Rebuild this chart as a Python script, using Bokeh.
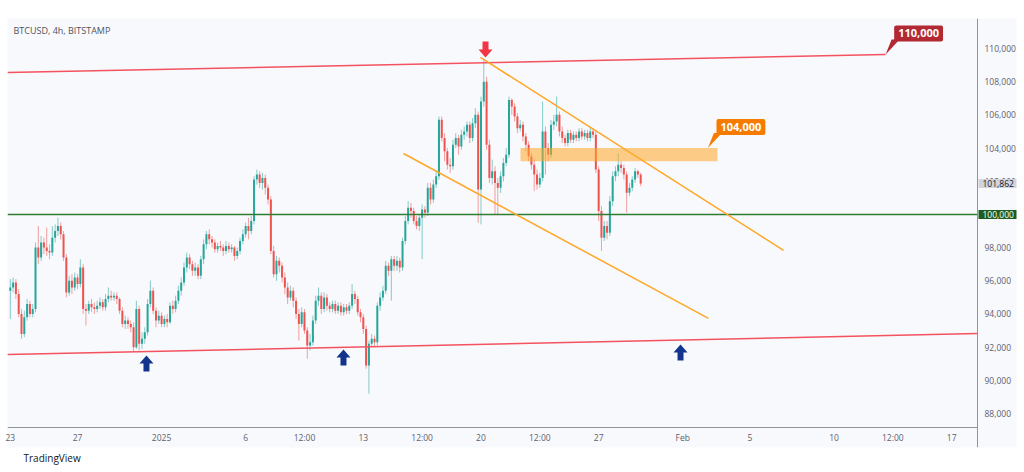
from bokeh.plotting import figure
from bokeh.models import Range1d, FixedTicker, Label, Span, ColumnDataSource, Title
from bokeh.embed import file_html
from bokeh.resources import INLINE

FONT = "Open Sans"

# ---------------- data (BTCUSD 4h, prices in thousands of USD) ----------------
# one row per day, starting 23 Dec 2024 00:00, six 4-hour bars per day
opens = [
    95.4, 95.6, 95.9, 95.2, 94.0, 92.8,
    93.8, 94.6, 94.0, 94.3, 98.0, 97.4,
    98.3, 98.0, 97.8, 97.7, 98.6, 99.0,
    99.3, 98.8, 97.4, 95.3, 96.0, 95.6,
    96.2, 95.8, 96.8, 94.3, 94.2, 94.6,
    94.4, 94.3, 94.5, 94.7, 94.4, 94.9,
    95.1, 95.0, 95.1, 94.9, 94.2, 93.4,
    93.6, 93.4, 93.2, 92.0, 94.3, 92.2,
    92.5, 92.9, 94.6, 95.4, 94.2, 93.6,
    93.9, 93.4, 93.7, 93.5, 94.5, 94.3,
    94.8, 95.4, 95.9, 96.8, 97.4, 97.0,
    96.6, 96.8, 96.3, 97.3, 98.2, 98.8,
    98.5, 98.3, 97.9, 98.1, 98.0, 97.8,
    98.1, 97.9, 98.0, 97.5, 97.8, 98.4,
    98.8, 99.3, 99.0, 99.6, 102.1, 102.4,
    101.9, 102.2, 101.6, 100.9, 97.8, 96.4,
    97.2, 96.9, 96.2, 95.6, 95.0, 95.4,
    94.8, 94.0, 93.4, 94.1, 93.0, 92.1,
    92.3, 93.6, 94.8, 95.1, 94.3, 95.0,
    94.5, 94.3, 94.6, 94.2, 94.5, 94.1,
    94.4, 94.2, 94.5, 95.2, 94.9, 94.1,
    93.8, 93.1, 90.9, 92.2, 92.5, 92.3,
    94.5, 95.0, 95.4, 96.9, 96.6, 97.3,
    96.9, 97.2, 96.8, 98.4, 99.6, 100.4,
    100.2, 99.6, 99.3, 99.8, 100.3, 100.1,
    101.6, 100.9, 101.8, 102.3, 105.7, 104.6,
    103.8, 103.0, 102.9, 104.2, 104.6, 104.1,
    104.8, 105.0, 105.4, 104.6, 105.5, 106.0,
    101.5, 106.8, 108.0, 104.2, 102.2, 102.6,
    101.9, 101.6, 102.3, 103.1, 103.6, 106.9,
    106.5, 105.9, 105.2, 105.4, 104.7, 104.2,
    103.5, 103.0, 102.4, 101.8, 102.2, 105.0,
    104.0, 103.6, 105.4, 105.6, 106.0, 105.0,
    104.6, 104.3, 104.9, 104.5, 104.8, 104.6,
    105.0, 104.7, 104.9, 104.6, 105.0, 104.8,
    102.7, 100.2, 98.6, 99.3, 98.9, 100.8,
    102.3, 102.6, 103.0, 102.8, 102.4, 101.3,
    101.6, 102.1, 102.6, 102.4,
]
highs = [
    96.1, 96.2, 96.1, 95.5, 94.3, 94.2,
    94.9, 94.8, 94.6, 98.3, 99.3, 98.7,
    98.6, 99.2, 98.2, 99.3, 99.4, 99.8,
    99.5, 99.0, 97.6, 96.3, 96.4, 96.5,
    96.4, 97.3, 97.0, 94.6, 94.8, 94.9,
    94.7, 94.8, 95.0, 94.9, 95.2, 95.6,
    95.4, 95.3, 95.3, 95.0, 94.4, 93.9,
    93.8, 93.6, 93.5, 94.8, 94.5, 92.9,
    93.2, 94.9, 96.0, 95.6, 94.4, 94.2,
    94.1, 93.9, 94.0, 94.7, 94.8, 95.1,
    95.7, 96.2, 97.1, 97.7, 97.6, 97.2,
    97.1, 97.0, 97.5, 98.5, 99.0, 99.1,
    98.7, 98.5, 98.3, 98.4, 98.2, 98.4,
    98.3, 98.2, 98.1, 98.0, 98.6, 99.1,
    99.5, 99.8, 99.9, 102.3, 102.7, 102.6,
    102.5, 102.4, 101.8, 101.1, 98.1, 97.5,
    97.4, 97.1, 96.5, 95.9, 95.7, 95.6,
    95.0, 94.3, 94.4, 94.3, 93.2, 92.8,
    93.9, 95.1, 95.6, 95.3, 95.3, 95.2,
    94.7, 94.8, 94.8, 94.7, 94.7, 94.6,
    94.6, 94.7, 95.8, 95.4, 95.1, 94.3,
    94.0, 93.3, 92.4, 92.8, 92.7, 94.7,
    95.3, 95.7, 97.2, 97.1, 97.5, 97.5,
    97.5, 97.4, 98.6, 99.9, 100.8, 100.7,
    100.4, 99.9, 100.0, 100.6, 100.5, 101.9,
    101.9, 102.1, 102.6, 105.9, 105.9, 104.9,
    104.0, 103.4, 104.5, 104.9, 104.8, 105.1,
    105.3, 105.6, 105.6, 105.8, 106.4, 106.2,
    107.1, 109.3, 108.3, 104.5, 103.3, 102.9,
    102.2, 102.6, 103.4, 104.0, 107.1, 107.0,
    106.7, 106.1, 105.7, 105.6, 104.9, 104.4,
    103.7, 103.3, 102.7, 102.5, 106.8, 105.3,
    104.3, 105.7, 106.0, 107.1, 106.2, 105.3,
    104.8, 105.1, 105.1, 105.0, 105.0, 105.2,
    105.2, 105.1, 105.1, 105.3, 105.2, 105.0,
    102.9, 100.5, 99.6, 99.6, 101.1, 102.6,
    102.9, 103.7, 103.2, 103.0, 102.6, 101.9,
    102.3, 102.8, 102.7, 102.5,
]
lows = [
    93.7, 95.3, 94.9, 93.8, 92.5, 92.6,
    93.6, 93.8, 93.8, 94.1, 97.0, 97.2,
    97.6, 97.5, 97.3, 97.5, 98.3, 98.7,
    98.5, 97.2, 95.0, 95.1, 95.2, 95.4,
    95.5, 95.6, 94.0, 93.3, 94.0, 94.1,
    94.0, 94.1, 94.3, 94.2, 94.2, 94.7,
    94.8, 94.8, 94.6, 94.0, 93.2, 93.1,
    93.1, 92.9, 91.7, 91.9, 91.8, 91.9,
    92.2, 92.7, 94.4, 94.0, 93.2, 93.4,
    93.2, 93.2, 93.2, 93.4, 94.0, 94.1,
    94.6, 95.1, 95.7, 96.5, 96.7, 96.3,
    96.3, 96.1, 96.1, 97.0, 97.9, 98.2,
    98.0, 97.7, 97.7, 97.8, 97.5, 97.6,
    97.7, 97.7, 97.2, 97.3, 97.6, 98.2,
    98.6, 98.5, 98.8, 99.4, 101.8, 101.6,
    101.5, 101.2, 100.6, 97.6, 96.2, 96.0,
    96.5, 95.9, 95.2, 94.6, 94.8, 94.4,
    93.7, 92.4, 93.2, 92.8, 91.3, 91.8,
    92.1, 93.4, 94.5, 94.0, 94.1, 94.2,
    94.1, 94.1, 94.0, 94.0, 93.9, 93.9,
    94.0, 94.0, 94.3, 94.6, 93.9, 93.5,
    92.8, 90.7, 89.2, 92.0, 92.0, 92.1,
    94.2, 94.8, 95.2, 96.3, 94.8, 96.6,
    96.6, 96.5, 96.6, 98.2, 99.4, 99.8,
    99.4, 99.1, 99.0, 97.3, 99.8, 99.9,
    100.6, 100.7, 101.6, 102.1, 104.4, 103.2,
    102.7, 102.5, 102.7, 104.0, 103.6, 103.9,
    104.5, 104.7, 104.3, 104.4, 105.2, 99.5,
    99.4, 106.5, 103.9, 101.9, 101.8, 100.0,
    100.0, 101.3, 102.0, 102.9, 103.4, 106.0,
    105.6, 104.9, 105.0, 104.4, 103.8, 103.2,
    102.7, 101.4, 101.5, 101.6, 102.0, 102.4,
    103.2, 103.4, 105.1, 105.3, 104.7, 104.3,
    104.1, 104.1, 104.3, 104.3, 104.4, 104.4,
    104.5, 104.5, 104.4, 104.4, 104.6, 102.5,
    99.6, 97.8, 98.4, 98.5, 98.7, 100.5,
    102.0, 102.3, 102.5, 102.1, 100.1, 101.1,
    101.4, 101.9, 102.2, 101.7,
]
closes = [
    95.6, 95.9, 95.2, 94.0, 92.8, 93.8,
    94.6, 94.0, 94.3, 98.0, 97.4, 98.3,
    98.0, 97.8, 97.7, 98.6, 99.0, 99.3,
    98.8, 97.4, 95.3, 96.0, 95.6, 96.2,
    95.8, 96.8, 94.3, 94.2, 94.6, 94.4,
    94.3, 94.5, 94.7, 94.4, 94.9, 95.1,
    95.0, 95.1, 94.9, 94.2, 93.4, 93.6,
    93.4, 93.2, 92.0, 94.3, 92.2, 92.5,
    92.9, 94.6, 95.4, 94.2, 93.6, 93.9,
    93.4, 93.7, 93.5, 94.5, 94.3, 94.8,
    95.4, 95.9, 96.8, 97.4, 97.0, 96.6,
    96.8, 96.3, 97.3, 98.2, 98.8, 98.5,
    98.3, 97.9, 98.1, 98.0, 97.8, 98.1,
    97.9, 98.0, 97.5, 97.8, 98.4, 98.8,
    99.3, 99.0, 99.6, 102.1, 102.4, 101.9,
    102.2, 101.6, 100.9, 97.8, 96.4, 97.2,
    96.9, 96.2, 95.6, 95.0, 95.4, 94.8,
    94.0, 93.4, 94.1, 93.0, 92.1, 92.3,
    93.6, 94.8, 95.1, 94.3, 95.0, 94.5,
    94.3, 94.6, 94.2, 94.5, 94.1, 94.4,
    94.2, 94.5, 95.2, 94.9, 94.1, 93.8,
    93.1, 90.9, 92.2, 92.5, 92.3, 94.5,
    95.0, 95.4, 96.9, 96.6, 97.3, 96.9,
    97.2, 96.8, 98.4, 99.6, 100.4, 100.2,
    99.6, 99.3, 99.8, 100.3, 100.1, 101.6,
    100.9, 101.8, 102.3, 105.7, 104.6, 103.8,
    103.0, 102.9, 104.2, 104.6, 104.1, 104.8,
    105.0, 105.4, 104.6, 105.5, 106.0, 101.5,
    106.8, 108.0, 104.2, 102.2, 102.6, 101.9,
    101.6, 102.3, 103.1, 103.6, 106.9, 106.5,
    105.9, 105.2, 105.4, 104.7, 104.2, 103.5,
    103.0, 102.4, 101.8, 102.2, 105.0, 104.0,
    103.6, 105.4, 105.6, 106.0, 105.0, 104.6,
    104.3, 104.9, 104.5, 104.8, 104.6, 105.0,
    104.7, 104.9, 104.6, 105.0, 104.8, 102.7,
    100.2, 98.6, 99.3, 98.9, 100.8, 102.3,
    102.6, 103.0, 102.8, 102.4, 101.3, 101.6,
    102.1, 102.6, 102.4, 101.862,
]
# bar open time in days since 23 Dec 2024 (4-hour bars)
bar_days = [i / 6 for i in range(len(closes))]

x_tick_days = [0, 4, 9, 14, 17.5, 21, 24.5, 28, 31.5, 35, 40, 44, 49, 52.5, 56]
x_tick_labels = ["23", "27", "2025", "6", "12:00", "13", "12:00", "20", "12:00",
                 "27", "Feb", "5", "10", "12:00", "17"]
y_ticks = [88, 90, 92, 94, 96, 98, 100, 102, 104, 106, 108, 110]
y_tick_labels = ["88,000", "90,000", "92,000", "94,000", "96,000", "98,000",
                 "100,000", "102,000", "104,000", "106,000", "108,000", "110,000"]

support_level = 100.0
last_price = 101.862
channel_top_days = [-0.17, 52.07]
channel_top_prices = [108.55, 109.64]
channel_bot_days = [-0.17, 57.54]
channel_bot_prices = [91.55, 92.82]
wedge_top_days = [27.97, 46.0]
wedge_top_prices = [109.46, 97.83]
wedge_bot_days = [23.39, 41.53]
wedge_bot_prices = [103.67, 93.73]
zone_days = [30.35, 42.07]
zone_prices = [103.2, 104.0]
callout_days = [41.5, 52.07]
callout_prices = [104.0, 109.64]
callout_texts = ["104,000", "110,000"]
up_arrow_days = [8.10, 19.82, 39.87]
up_arrow_prices = [91.50, 91.86, 92.16]
down_arrow_days = [28.27]
down_arrow_prices = [109.46]

# ---------------- figure ----------------
W, H = 1024, 472
BL, BR, BT, BB = 7, 8, 18, 25
X0, X1 = -0.1666, 59.857        # frame spans the whole chart panel incl. scales
Y0, Y1 = 85.952, 111.808
X_SEP, Y_SEP = 57.537, 87.158   # where the price scale / time scale begin
PX = (X1 - X0) / (W - BL - BR)   # days per pixel
PY = (Y1 - Y0) / (H - BT - BB)   # price per pixel

p = figure(width=W, height=H, x_range=Range1d(X0, X1), y_range=Range1d(Y0, Y1),
           output_backend="svg", toolbar_location=None, y_axis_location="right",
           min_border_left=BL, min_border_right=BR, min_border_top=BT, min_border_bottom=BB)
p.background_fill_color = "#f8f9fd"
p.border_fill_color = "#ffffff"
p.outline_line_color = None
p.grid.visible = False

AX_COL = "#8f939c"
LBL_COL = "#5d606b"
yax = p.yaxis[0]
yax.ticker = FixedTicker(ticks=y_ticks)
yax.major_label_overrides = {t: l for t, l in zip(y_ticks, y_tick_labels)}
xax = p.xaxis[0]
xax.ticker = FixedTicker(ticks=x_tick_days)
xax.major_label_overrides = {t: l for t, l in zip(x_tick_days, x_tick_labels)}
for ax, so in ((yax, -32), (xax, -16)):
    ax.major_tick_in = 0
    ax.major_tick_out = 0
    ax.minor_tick_in = 0
    ax.minor_tick_out = 0
    ax.axis_line_color = None
    ax.major_label_text_font = FONT
    ax.major_label_text_font_size = "8.5px"
    ax.major_label_text_color = LBL_COL
    ax.major_label_standoff = so

# scale separators
p.add_layout(Span(location=X_SEP, dimension="height", line_color=AX_COL, line_width=1))
p.segment(x0=[X0], y0=[Y_SEP], x1=[X_SEP], y1=[Y_SEP], line_color=AX_COL, line_width=1)

# ---------------- candles ----------------
UP, DN = "#26a69a", "#ef5350"
colors = [UP if c >= o else DN for o, c in zip(opens, closes)]
src = ColumnDataSource(dict(
    x=bar_days, h=highs, l=lows,
    top=[max(o, c) for o, c in zip(opens, closes)],
    bot=[min(o, c) for o, c in zip(opens, closes)],
    color=colors))
p.segment("x", "h", "x", "l", source=src, line_color="color", line_alpha=0.55, line_width=1)
p.vbar(x="x", width=2.0 * PX, top="top", bottom="bot", source=src,
       fill_color="color", line_color=None)

# ---------------- drawings ----------------
p.segment(x0=[X0], y0=[support_level], x1=[X_SEP], y1=[support_level],
          line_color="#2e7d32", line_width=1.5)
p.line(channel_top_days, channel_top_prices, line_color="#f4525e", line_width=1.5)
p.line(channel_bot_days, channel_bot_prices, line_color="#f4525e", line_width=1.5)
p.line(wedge_top_days, wedge_top_prices, line_color="#ffa726", line_width=1.5)
p.line(wedge_bot_days, wedge_bot_prices, line_color="#ffa726", line_width=1.5)
p.quad(left=[zone_days[0]], right=[zone_days[1]], bottom=[zone_prices[0]], top=[zone_prices[1]],
       fill_color="#ffa726", fill_alpha=0.55, line_color=None)

# block arrows (shape in pixels, positioned at data tips)
up_shape = [(0, 0), (7, -8), (3, -8), (3, -16), (-3, -16), (-3, -8), (-7, -8)]
xs, ys = [], []
for d, pr in zip(up_arrow_days, up_arrow_prices):
    xs.append([d + sx * PX for sx, sy in up_shape])
    ys.append([pr + sy * PY for sx, sy in up_shape])
p.patches(xs, ys, fill_color="#13348c", line_color=None)
xs, ys = [], []
for d, pr in zip(down_arrow_days, down_arrow_prices):
    xs.append([d + sx * PX for sx, sy in up_shape])
    ys.append([pr - sy * PY for sx, sy in up_shape])
p.patches(xs, ys, fill_color="#f23645", line_color=None)

# callouts
callout_colors = ["#f57c00", "#b22833"]
tail_shape = [(0, 0), (6, 15), (14, 15)]
for d, pr, t, col in zip(callout_days, callout_prices, callout_texts, callout_colors):
    p.patch([d + sx * PX for sx, sy in tail_shape], [pr + sy * PY for sx, sy in tail_shape],
            fill_color=col, line_color=None)
    p.add_layout(Label(x=d, y=pr, x_offset=33, y_offset=21, text=t, text_align="center",
                       text_baseline="middle", text_color="white", text_font=FONT,
                       text_font_style="bold", text_font_size="11px",
                       background_fill_color=col, padding=4, border_radius=2))

# price-scale markers
pad = dict(left=4, right=4, top=1, bottom=1)
p.add_layout(Label(x=X_SEP, y=last_price, x_offset=1, text="101,862", text_align="left",
                   text_baseline="middle", text_color="#131722", text_font=FONT,
                   text_font_size="8.5px", background_fill_color="#d1d4dc", padding=pad))
p.add_layout(Label(x=X_SEP, y=support_level, x_offset=1, text="100,000", text_align="left",
                   text_baseline="middle", text_color="white", text_font=FONT,
                   text_font_size="8.5px", background_fill_color="#1b5e20", padding=pad))

# header and footer texts
p.add_layout(Label(x=X0, y=Y1, x_offset=6, y_offset=-12, text="BTCUSD, 4h, BITSTAMP",
                   text_baseline="middle", text_color="#50535e", text_font=FONT,
                   text_font_size="9px"))
p.add_layout(Title(text="TradingView", align="left", offset=16, standoff=3,
                   text_color="#131722", text_font=FONT, text_font_style="normal",
                   text_font_size="10px"), "below")

open("out.html", "w").write(file_html(p, INLINE))
